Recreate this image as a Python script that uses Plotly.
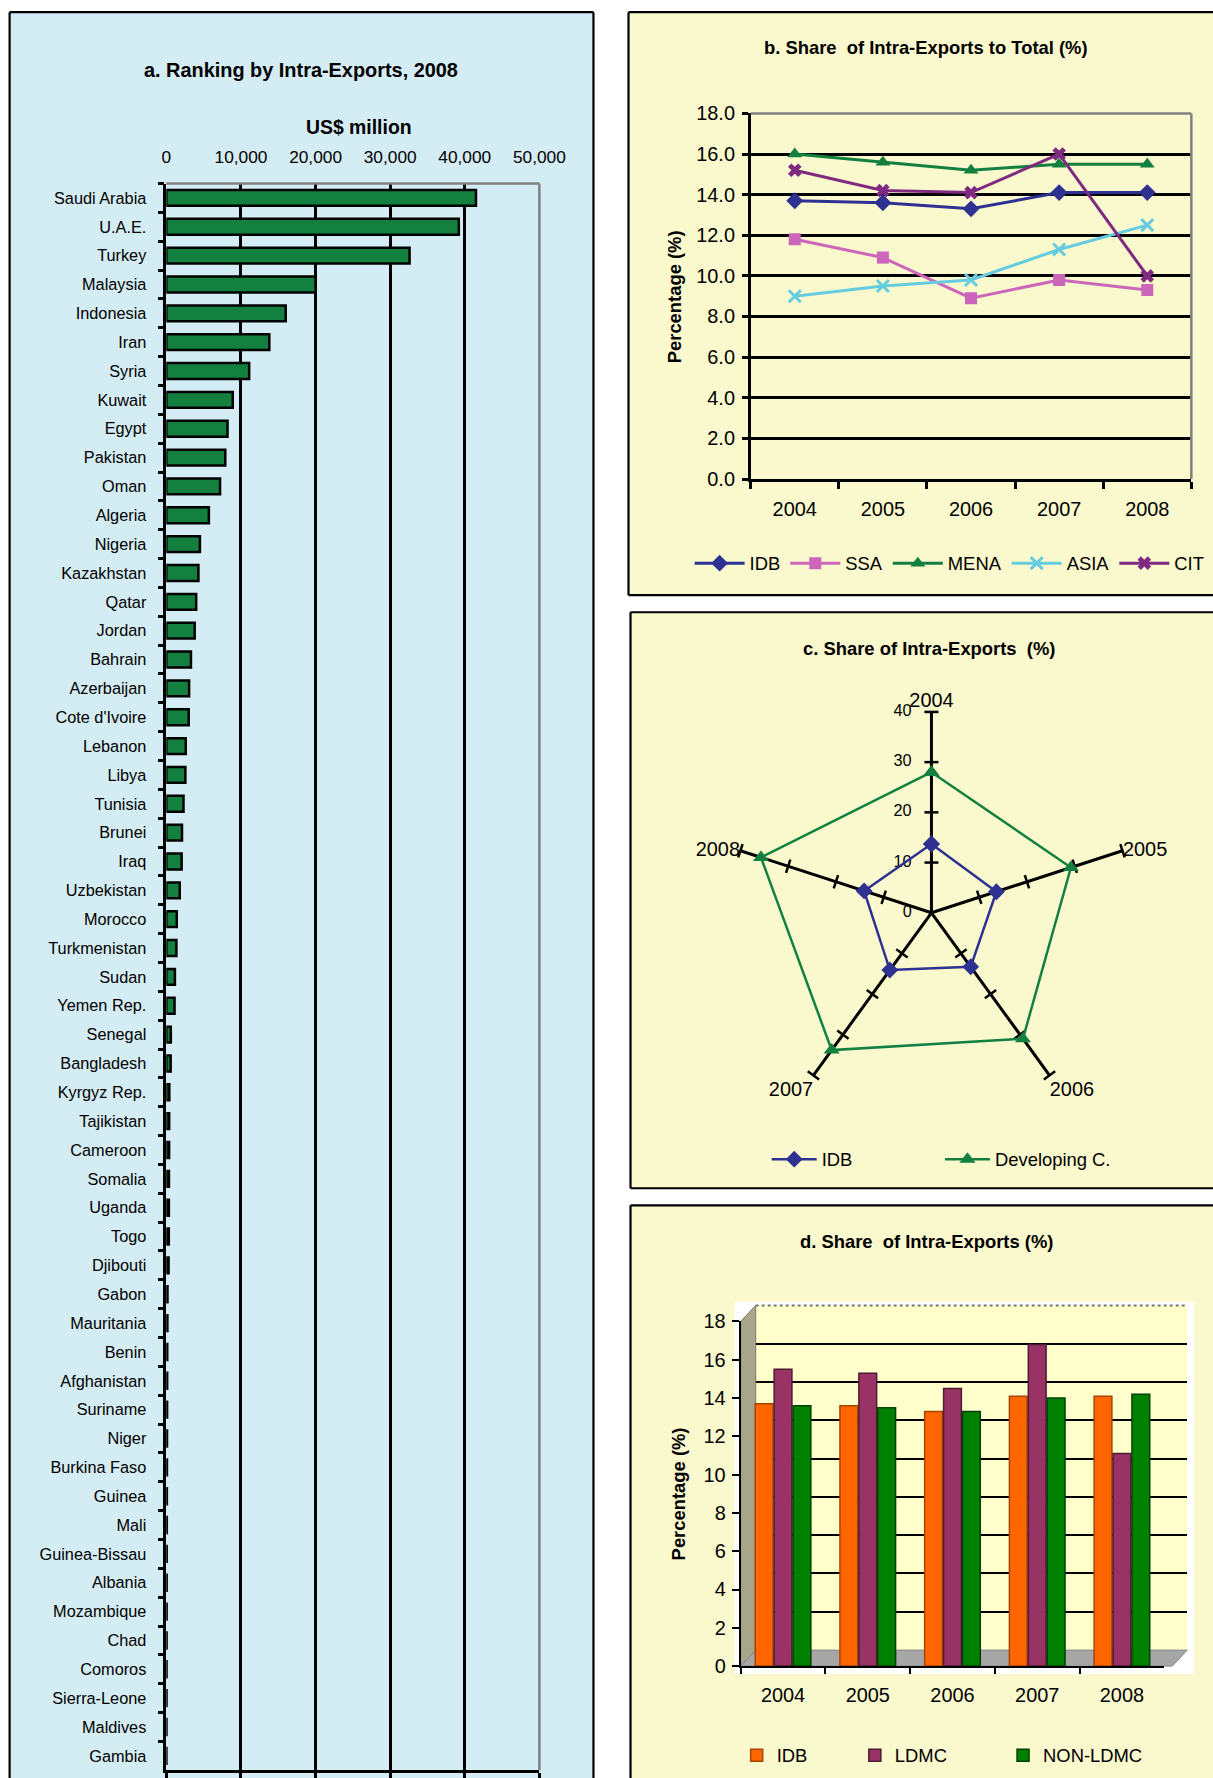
import plotly.graph_objects as go

# The photographed page region maps css px -> picture px approximately as
# pic = A + B * css (measured). Layout is planned in picture px and converted.
AX, BX = 4.4, 0.9736
AY, BY = 9.8, 0.986
FWc, FHc = 1241, 1793          # figure size in css px (body margin removed below)
SC = 1.02                      # font compensation for the capture scaling

def px(x):
    return min(max(((x - AX) / BX) / FWc, 0.0), 1.0)
def py(y):
    return min(max(1 - ((y - AY) / BY) / FHc, 0.0), 1.0)
def fs(v):
    return round(v * SC, 1)

FONT = "Arial, 'Liberation Sans', Helvetica, sans-serif"

# ---------------- data ----------------
countries = ["Saudi Arabia", "U.A.E.", "Turkey", "Malaysia", "Indonesia", "Iran", "Syria", "Kuwait",
             "Egypt", "Pakistan", "Oman", "Algeria", "Nigeria", "Kazakhstan", "Qatar", "Jordan",
             "Bahrain", "Azerbaijan", "Cote d'Ivoire", "Lebanon", "Libya", "Tunisia", "Brunei", "Iraq",
             "Uzbekistan", "Morocco", "Turkmenistan", "Sudan", "Yemen Rep.", "Senegal", "Bangladesh",
             "Kyrgyz Rep.", "Tajikistan", "Cameroon", "Somalia", "Uganda", "Togo", "Djibouti", "Gabon",
             "Mauritania", "Benin", "Afghanistan", "Suriname", "Niger", "Burkina Faso", "Guinea", "Mali",
             "Guinea-Bissau", "Albania", "Mozambique", "Chad", "Comoros", "Sierra-Leone", "Maldives", "Gambia"]
exports = [41500, 39200, 32600, 20000, 16000, 13800, 11100, 8900, 8200, 7900,
           7200, 5700, 4500, 4300, 4000, 3800, 3300, 3050, 3000, 2600,
           2550, 2300, 2100, 2050, 1800, 1400, 1350, 1150, 1100, 600,
           580, 400, 380, 370, 350, 340, 330, 300, 150, 140,
           120, 110, 100, 90, 80, 70, 60, 50, 45, 40,
           35, 30, 25, 20, 15]
a_ticks = [0, 10000, 20000, 30000, 40000, 50000]

years = ["2004", "2005", "2006", "2007", "2008"]
b_idb = [13.7, 13.6, 13.3, 14.1, 14.1]
b_ssa = [11.8, 10.9, 8.9, 9.8, 9.3]
b_mena = [16.0, 15.6, 15.2, 15.5, 15.5]
b_asia = [9.0, 9.5, 9.8, 11.3, 12.5]
b_cit = [15.2, 14.2, 14.1, 16.0, 10.0]

c_idb = [13.7, 13.6, 13.3, 14.1, 14.1]
c_dev = [28.0, 29.2, 31.0, 33.8, 35.7]
c_ticks = [0, 10, 20, 30, 40]

d_idb = [13.7, 13.6, 13.3, 14.1, 14.1]
d_ldmc = [15.5, 15.3, 14.5, 16.8, 11.1]
d_non = [13.6, 13.5, 13.3, 14.0, 14.2]

BLUE_BG = "#D4ECF3"
YEL_BG = "#FAF8CD"
GREEN = "#138040"

fig = go.Figure()

# ---------------- panel a ----------------
fig.add_trace(go.Bar(y=countries, x=exports, orientation="h", xaxis="x", yaxis="y",
                     width=0.55, marker=dict(color=GREEN, line=dict(color="black", width=2.5)),
                     showlegend=False))
fig.add_trace(go.Scatter(x=[None], y=[None], xaxis="x2", yaxis="y", showlegend=False))

# ---------------- panel b ----------------
b_series = [("IDB", b_idb, "#2E3192", "diamond", 13),
            ("SSA", b_ssa, "#CC66BB", "square", 12),
            ("MENA", b_mena, "#138040", "triangle-up", 13),
            ("ASIA", b_asia, "#66CCE0", "x-thin-open", 12),
            ("CIT", b_cit, "#7F2A80", "x", 12)]
for name, vals, col, sym, sz in b_series:
    mk = dict(symbol=sym, size=sz, color=col)
    if sym == "x-thin-open":
        mk["line"] = dict(color=col, width=3)
    fig.add_trace(go.Scatter(x=years, y=vals, name=name, mode="lines+markers",
                             xaxis="x3", yaxis="y3", legend="legend",
                             line=dict(color=col, width=3), marker=mk))

# ---------------- panel c ----------------
theta_closed = years + years[:1]
for k, yr in enumerate(years):
    fig.add_trace(go.Scatterpolar(r=c_ticks[1:], theta=[yr] * len(c_ticks[1:]), mode="markers",
                                  subplot="polar", showlegend=False, hoverinfo="skip",
                                  marker=dict(symbol="line-ew", size=10, angle=72 * k,
                                              line=dict(color="black", width=2.5), color="black")))
# radial tick labels, to the left of the 2004 spoke
fig.add_trace(go.Scatterpolar(r=c_ticks, theta=[years[0]] * len(c_ticks), mode="markers+text",
                              text=[str(v) for v in c_ticks], textposition="middle left",
                              textfont=dict(size=fs(16), color="black"), subplot="polar",
                              showlegend=False, hoverinfo="skip",
                              marker=dict(size=30, color="rgba(0,0,0,0)")))
fig.add_trace(go.Scatterpolar(r=c_idb + c_idb[:1], theta=theta_closed, name="IDB",
                              mode="lines+markers", subplot="polar", legend="legend2",
                              line=dict(color="#2E3192", width=2.5),
                              marker=dict(symbol="diamond", size=13, color="#2E3192")))
fig.add_trace(go.Scatterpolar(r=c_dev + c_dev[:1], theta=theta_closed, name="Developing C.",
                              mode="lines+markers", subplot="polar", legend="legend3",
                              line=dict(color=GREEN, width=2.5),
                              marker=dict(symbol="triangle-up", size=14, color=GREEN)))

# ---------------- panel d ----------------
fig.add_trace(go.Scatter(x=[None], y=[None], xaxis="x5", yaxis="y5", showlegend=False))
d_series = [("IDB", d_idb, "#FF6600", "#A84300", "legend4"),
            ("LDMC", d_ldmc, "#993366", "#4F1A35", "legend5"),
            ("NON-LDMC", d_non, "#008000", "#004000", "legend6")]
for name, vals, col, edge, lg in d_series:
    fig.add_trace(go.Bar(x=years, y=vals, name=name, xaxis="x6", yaxis="y6", legend=lg,
                         marker=dict(color=col, line=dict(color=edge, width=1.5))))

# ---------------- shapes (all kept inside the figure) ----------------
shapes = []
def rect(x0, y0, x1, y1, fill, layer="below"):
    shapes.append(dict(type="rect", xref="paper", yref="paper", x0=px(x0), x1=px(x1),
                       y0=py(y1), y1=py(y0), fillcolor=fill, line=dict(width=0), layer=layer))
def seg(x0, y0, x1, y1, color, lw=2, layer="above", dash=None):
    ln = dict(color=color, width=lw)
    if dash:
        ln["dash"] = dash
    shapes.append(dict(type="line", xref="paper", yref="paper", x0=px(x0), x1=px(x1),
                       y0=py(y0), y1=py(y1), line=ln, layer=layer))
def poly(pts, fill, line_color, lw=1):
    path = "M " + " L ".join(f"{px(x):.5f},{py(y):.5f}" for x, y in pts) + " Z"
    shapes.append(dict(type="path", xref="paper", yref="paper", path=path, fillcolor=fill,
                       line=dict(color=line_color, width=lw), layer="below"))
def frame(x0, y0, x1, y1, fill, sides):
    rect(x0, y0, x1, y1, fill)
    if "l" in sides: seg(x0, y0, x0, y1, "black", 2.2, "below")
    if "t" in sides: seg(x0, y0, x1, y0, "black", 2.2, "below")
    if "r" in sides: seg(x1, y0, x1, y1, "black", 2.2, "below")
    if "b" in sides: seg(x0, y1, x1, y1, "black", 2.2, "below")

# panel frames
frame(9, 11, 592, 1800, BLUE_BG, "ltr")
frame(627, 11, 1300, 593, YEL_BG, "ltb")
frame(629, 610, 1300, 1185, YEL_BG, "ltb")
frame(629, 1202, 1300, 1800, YEL_BG, "lt")
# panel a plot border (grey top/right)
A_L, A_R, A_T, A_B = 165.5, 538, 182, 1766
seg(A_L, A_T, A_R, A_T, "#808080", 2.5)
seg(A_R, A_T, A_R, A_B, "#808080", 2.5)
# panel b plot border
B_L, B_R, B_T, B_B = 749, 1189, 112, 477
seg(B_L, B_T, B_R, B_T, "#808080", 2.5)
seg(B_R, B_T, B_R, B_B, "#808080", 2.5)
# panel d pseudo 3-D box
D_FL, D_FR, D_FT, D_FB = 739, 1162, 1318, 1662
DX, DY = 15, 16
rect(733, 1298, 1192, 1670, "white")
rect(D_FL + DX, D_FT - DY, D_FR + DX + 8, D_FB - DY, "#FFFFCC")
poly([(D_FL, D_FB), (D_FL + DX, D_FB - DY), (D_FL + DX, D_FT - DY), (D_FL, D_FT)], "#A8A68A", "#777766")
poly([(D_FL, D_FB), (D_FL + DX, D_FB - DY), (D_FR + DX + 8, D_FB - DY), (D_FR + 8, D_FB)], "#A6A6A6", "#888888")
seg(D_FL + DX, D_FT - DY, D_FR + DX + 8, D_FT - DY, "#777777", 2, layer="below", dash="dot")

# ---------------- annotations ----------------
ann = []
def text(x, y, s, size, bold=False, angle=0, xanchor="center"):
    ann.append(dict(x=px(x), y=py(y), xref="paper", yref="paper", text=f"<b>{s}</b>" if bold else s,
                    showarrow=False, textangle=angle, xanchor=xanchor, yanchor="middle",
                    font=dict(family=FONT, size=fs(size), color="black")))
text(300, 69, "a. Ranking by Intra-Exports, 2008", 19.5, True)
text(358, 126, "US$ million", 19, True)
text(924, 46, "b. Share  of Intra-Exports to Total (%)", 18, True)
text(673, 295, "Percentage (%)", 18, True, -90)
text(927, 646, "c. Share of Intra-Exports  (%)", 18, True)
text(925, 1238, "d. Share  of Intra-Exports (%)", 18, True)
text(677, 1490, "Percentage (%)", 18, True, -90)

axis_common = dict(color="black", linecolor="black", tickcolor="black", zeroline=False)

def leg(x, y, iw=45, size=18):
    return dict(orientation="h", x=px(x), y=py(y), xanchor="left", yanchor="middle",
                bgcolor="rgba(0,0,0,0)", font=dict(size=fs(size)), itemwidth=iw, traceorder="normal")

# polar domain: square in css px
PR = 206
PCX, PCY = (929.5 - AX) / BX, (910 - AY) / BY

fig.update_layout(
    width=FWc, height=FHc, autosize=False,
    margin=dict(l=0, r=0, t=0, b=0),
    paper_bgcolor="white", plot_bgcolor="rgba(0,0,0,0)",
    font=dict(family=FONT, color="black"),
    barmode="group", bargap=0.33, bargroupgap=0.06,
    shapes=shapes, annotations=ann,
    # panel a
    xaxis=dict(domain=[px(A_L), px(A_R)], anchor="y", side="top", range=[0, 50000],
               tickvals=a_ticks, tickformat=",d", showgrid=True, gridcolor="black", gridwidth=2.5,
               showline=False, ticks="", ticklabelstandoff=16, tickfont=dict(size=fs(17)), **axis_common),
    xaxis2=dict(overlaying="x", anchor="y", side="bottom", range=[0, 50000], tickvals=a_ticks,
                showgrid=False, showline=True, linewidth=2.5, ticks="outside", ticklen=6, tickwidth=2.5,
                showticklabels=False, **axis_common),
    yaxis=dict(domain=[py(A_B), py(A_T)], anchor="x", type="category", autorange="reversed",
               showline=True, linewidth=2.5, ticks="outside", tickson="boundaries", ticklen=6,
               tickwidth=2.5, showgrid=False, ticklabelstandoff=14, tickfont=dict(size=fs(16)), **axis_common),
    # panel b
    xaxis3=dict(domain=[px(B_L), px(B_R)], anchor="y3", type="category", range=[-0.5, 4.5],
                showline=True, linewidth=2.5, ticks="outside", tickson="boundaries", ticklen=7,
                tickwidth=2.5, showgrid=False, ticklabelstandoff=10, tickfont=dict(size=fs(19.5)), **axis_common),
    yaxis3=dict(domain=[py(B_B), py(B_T)], anchor="x3", range=[0, 18], dtick=2, tickformat=".1f",
                showline=True, linewidth=2.5, ticks="outside", ticklen=6, tickwidth=2.5,
                showgrid=True, gridcolor="black", gridwidth=2.5, ticklabelstandoff=3,
                tickfont=dict(size=fs(19.5)), **axis_common),
    # panel d back wall
    xaxis5=dict(domain=[px(D_FL + DX), px(D_FR + DX + 8)], anchor="y5", range=[0, 1], visible=False),
    yaxis5=dict(domain=[py(D_FB - DY), py(D_FT - DY)], anchor="x5", range=[0, 18],
                tickvals=[2, 4, 6, 8, 10, 12, 14, 16], showgrid=True, gridcolor="black", gridwidth=1.8,
                showticklabels=False, ticks="", showline=False, zeroline=False),
    # panel d front plane
    xaxis6=dict(domain=[px(D_FL), px(D_FR)], anchor="y6", type="category", range=[-0.5, 4.5],
                showline=True, linewidth=2, ticks="outside", tickson="boundaries", ticklen=6, tickwidth=2,
                showgrid=False, ticklabelstandoff=10, tickfont=dict(size=fs(19.5)), **axis_common),
    yaxis6=dict(domain=[py(D_FB), py(D_FT)], anchor="x6", range=[0, 18], dtick=2,
                showline=True, linewidth=2, ticks="outside", ticklen=7, tickwidth=2,
                showgrid=False, ticklabelstandoff=2, tickfont=dict(size=fs(19.5)), **axis_common),
    # panel c
    polar=dict(
        domain=dict(x=[(PCX - PR) / FWc, (PCX + PR) / FWc],
                    y=[1 - (PCY + PR) / FHc, 1 - (PCY - PR) / FHc]),
        bgcolor="rgba(0,0,0,0)",
        angularaxis=dict(rotation=90, direction="clockwise", type="category", categoryarray=years,
                         showgrid=True, gridcolor="black", gridwidth=3, showline=False, ticks="",
                         tickfont=dict(size=fs(19.5), color="black")),
        radialaxis=dict(range=[0, 40], showgrid=False, showline=False, showticklabels=False,
                        ticks="", angle=90),
    ),
    legend=leg(688, 561, iw=50),
    legend2=leg(765, 1156, iw=45),
    legend3=leg(938, 1156, iw=45),
    legend4=leg(735, 1751, iw=30),
    legend5=leg(853, 1751, iw=30),
    legend6=leg(1001, 1751, iw=30),
)

fig.write_html("out.html", config={"displayModeBar": False},
               post_script="document.body.style.margin='0';document.body.style.padding='0';"
                           "document.documentElement.style.overflow='hidden';")
